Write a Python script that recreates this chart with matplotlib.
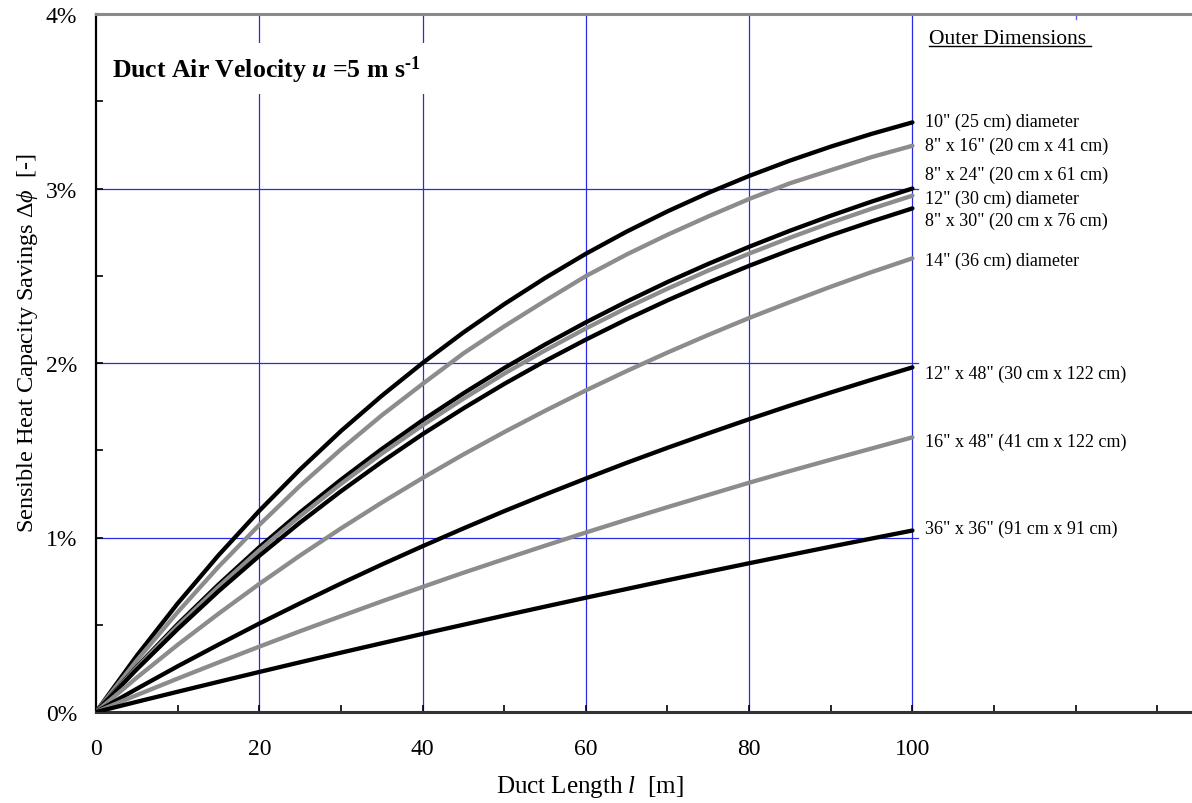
import matplotlib
matplotlib.use("Agg")
import matplotlib.pyplot as plt
from matplotlib.ticker import FixedLocator, MultipleLocator

plt.rcParams['font.family'] = ['Liberation Serif', 'DejaVu Serif']
plt.rcParams['mathtext.fontset'] = 'custom'
plt.rcParams['mathtext.rm'] = 'Liberation Serif'
plt.rcParams['mathtext.it'] = 'Liberation Serif:italic'
plt.rcParams['mathtext.bf'] = 'Liberation Serif:bold'
plt.rcParams['mathtext.bfit'] = 'Liberation Serif:italic:bold'

# ---- data (duct length in m, savings in %) ----
length_m = [0, 5, 10, 15, 20, 25, 30, 35, 40, 45, 50, 55, 60, 65, 70, 75, 80, 85, 90, 95, 100]

d10_round = [0, 0.323, 0.622, 0.898, 1.153, 1.39, 1.61, 1.812, 2.0, 2.175, 2.337,
             2.487, 2.626, 2.753, 2.869, 2.975, 3.072, 3.16, 3.24, 3.313, 3.379]
d8x16 = [0, 0.296, 0.572, 0.832, 1.072, 1.297, 1.505, 1.70, 1.88, 2.055, 2.21,
         2.356, 2.498, 2.622, 2.735, 2.84, 2.94, 3.03, 3.105, 3.18, 3.245]
d8x24 = [0, 0.259, 0.503, 0.730, 0.944, 1.144, 1.331, 1.507, 1.672, 1.826, 1.971,
         2.106, 2.233, 2.352, 2.464, 2.568, 2.666, 2.758, 2.844, 2.925, 3.0]
d12_round = [0, 0.254, 0.493, 0.717, 0.927, 1.123, 1.307, 1.481, 1.643, 1.795, 1.939,
             2.072, 2.198, 2.316, 2.426, 2.530, 2.627, 2.718, 2.804, 2.884, 2.959]
d8x30 = [0, 0.245, 0.475, 0.692, 0.895, 1.086, 1.265, 1.433, 1.592, 1.740, 1.880,
         2.011, 2.134, 2.250, 2.359, 2.461, 2.557, 2.647, 2.732, 2.811, 2.886]
d14_round = [0, 0.197, 0.385, 0.563, 0.734, 0.897, 1.052, 1.200, 1.341, 1.476, 1.604,
             1.726, 1.843, 1.954, 2.060, 2.161, 2.258, 2.349, 2.437, 2.521, 2.60]
d12x48 = [0, 0.133, 0.262, 0.386, 0.507, 0.623, 0.736, 0.845, 0.950, 1.052, 1.151,
          1.246, 1.338, 1.428, 1.514, 1.597, 1.678, 1.756, 1.831, 1.904, 1.975]
d16x48 = [0, 0.097, 0.1915, 0.284, 0.3745, 0.463, 0.549, 0.634, 0.7166, 0.798, 0.876,
          0.953, 1.0286, 1.102, 1.174, 1.244, 1.314, 1.381, 1.446, 1.510, 1.574]
d36x36 = [0, 0.0584, 0.116, 0.173, 0.2294, 0.285, 0.340, 0.394, 0.4476, 0.500, 0.5525,
          0.604, 0.655, 0.705, 0.755, 0.804, 0.8525, 0.900, 0.9475, 0.994, 1.04]

series = [d10_round, d8x16, d8x24, d12_round, d8x30, d14_round, d12x48, d16x48, d36x36]
series_colors = ['black', 'gray', 'black', 'gray', 'black', 'gray', 'black', 'gray', 'black']
labels = ['10" (25 cm) diameter', '8" x 16" (20 cm x 41 cm)', '8" x 24" (20 cm x 61 cm)',
          '12" (30 cm) diameter', '8" x 30" (20 cm x 76 cm)', '14" (36 cm) diameter',
          '12" x 48" (30 cm x 122 cm)', '16" x 48" (41 cm x 122 cm)', '36" x 36" (91 cm x 91 cm)']
label_y = [3.383, 3.245, 3.079, 2.946, 2.816, 2.590, 1.943, 1.549, 1.053]

x_ticks_major = [0, 20, 40, 60, 80, 100, 120]
x_tick_labels = ['0', '20', '40', '60', '80', '100', '']
y_ticks = [0, 1, 2, 3, 4]
y_tick_labels = ['0%', '1%', '2%', '3%', '4%']

fig = plt.figure(figsize=(11.92, 8.04), dpi=100)
ax = fig.add_axes([96 / 1192, (804 - 713) / 804, (1190 - 96) / 1192, (713 - 15) / 804])
ax.set_xlim(0, 134)
ax.set_ylim(0, 4)

grid_c = '#2a2ae6'
for gx in [20, 40, 60, 80, 100]:
    ax.plot([gx, gx], [0, 4], color=grid_c, lw=0.9, zorder=1)
for gy in [1, 2, 3]:
    ax.plot([0, 100.7], [gy, gy], color=grid_c, lw=0.9, zorder=1)
ax.plot([120, 120], [3.97, 4], color='#6060ff', lw=1.0, zorder=1)

gray_c = '#8c8c8c'
for ys, c in zip(series, series_colors):
    ax.plot(length_m, ys, color=('black' if c == 'black' else gray_c), lw=3.1,
            solid_capstyle='round', solid_joinstyle='round', zorder=3)

for lab, ly in zip(labels, label_y):
    ax.text(101.6, ly, lab, fontsize=13, va='center', ha='left', zorder=4)

od = ax.text(102.0, 3.86, 'Outer Dimensions ', fontsize=15.5, va='center', ha='left')

ax.text(2.0, 3.685, 'Duct Air Velocity $\\mathbfit{u}$ =5 m s$^{\\mathbf{\u20101}}$',
        fontsize=18.5, fontweight='bold', va='center', ha='left', zorder=2,
        bbox=dict(facecolor='white', edgecolor='none', pad=7))

ax.xaxis.set_major_locator(FixedLocator(x_ticks_major))
ax.set_xticklabels(x_tick_labels)
ax.xaxis.set_minor_locator(MultipleLocator(10))
ax.yaxis.set_major_locator(FixedLocator(y_ticks))
ax.set_yticklabels(y_tick_labels)
ax.yaxis.set_minor_locator(MultipleLocator(0.5))
ax.tick_params(axis='both', which='both', direction='in', length=5, width=1.2,
               labelsize=17, top=False, right=False)
ax.tick_params(axis='x', pad=19)
ax.tick_params(axis='y', pad=13.5)

ax.spines['left'].set_linewidth(1.6)
ax.spines['left'].set_color('black')
ax.spines['bottom'].set_linewidth(2.2)
ax.spines['bottom'].set_color('#333333')
ax.spines['top'].set_linewidth(2.2)
ax.spines['top'].set_color('#8a8a8a')
ax.spines['right'].set_visible(False)

ax.set_xlabel(r'Duct Length $l$  [m]', fontsize=18)
ax.xaxis.set_label_coords(0.451, -0.087)
ax.set_ylabel(r'Sensible Heat Capacity Savings $\mathit{\Delta\phi}$  [-]', fontsize=17.5)
ax.yaxis.set_label_coords(-0.051, 0.53)

# underline for "Outer Dimensions"
fig.canvas.draw()
bb = od.get_window_extent(fig.canvas.get_renderer())
inv = ax.transData.inverted()
(x0, y0) = inv.transform((bb.x0, bb.y0 + 2))
(x1, _) = inv.transform((bb.x1, bb.y0))
ax.plot([x0, x1], [y0, y0], color='black', lw=1.0, clip_on=False)

fig.savefig('out.png', dpi=100)
